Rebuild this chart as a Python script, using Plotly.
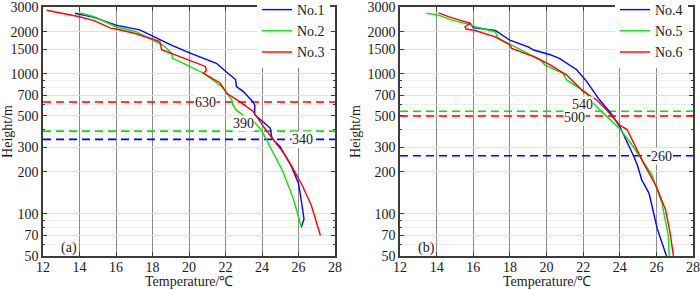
import math
import plotly.graph_objects as go

# ---------------- data ----------------
# Panel (a)
a1_T = [13.75, 14.8, 16.0, 17.3, 17.9, 19.0, 20.0, 21.5, 22.05, 22.35, 22.55, 22.6, 22.97, 23.5, 23.6, 23.6,
        24.45, 24.55, 25.0, 25.6, 26.0, 26.15, 26.3, 26.15]
a1_H = [2710, 2530, 2230, 2060, 1890, 1610, 1420, 1190, 1030, 950, 910, 810, 750, 630, 600, 510,
        410, 345, 300, 220, 165, 125, 92, 80]

a2_T = [13.95, 14.8, 16.0, 17.1, 17.9, 18.4, 18.6, 19.05, 19.1, 19.7, 20.8, 21.8, 22.15, 22.35, 22.4, 22.6,
        23.2, 23.6, 24.0, 24.4, 24.7, 25.15, 25.7, 26.05, 26.15]
a2_H = [2730, 2560, 2170, 2000, 1770, 1650, 1600, 1400, 1290, 1190, 1010, 810, 710, 650, 600, 550,
        480, 450, 390, 310, 260, 200, 130, 90, 81]

a3_T = [12.2, 14.0, 14.8, 15.7, 16.0, 17.0, 17.9, 18.4, 18.5, 18.8, 19.5, 20.9, 20.95, 20.8, 21.7, 22.1,
        22.8, 23.5, 24.2, 24.7, 25.2, 25.7, 26.2, 26.7, 27.0, 27.2]
a3_H = [2850, 2560, 2400, 2120, 2090, 1950, 1790, 1700, 1490, 1440, 1330, 1130, 1060, 1010, 860, 720,
        630, 540, 400, 330, 270, 210, 160, 115, 85, 70]

# Panel (b)
b4_T = [15.83, 16.0, 17.2, 18.0, 19.0, 19.3, 20.2, 20.7, 21.65, 22.2, 22.9, 23.5, 24.0, 24.45, 24.75,
        24.95, 25.05, 25.2, 25.6, 25.85, 26.05, 26.55]
b4_H = [2300, 2140, 2040, 1740, 1560, 1480, 1370, 1290, 1070, 880, 650, 525, 420, 320, 260,
        225, 205, 175, 140, 100, 78, 50]

b5_T = [13.45, 14.1, 14.8, 15.55, 15.9, 16.1, 17.2, 17.35, 17.9, 19.0, 19.65, 19.9, 20.9, 21.1, 22.2,
        22.3, 22.9, 24.0, 24.75, 25.75, 26.3, 26.65, 26.7]
b5_H = [2710, 2630, 2430, 2300, 2230, 2170, 2000, 1800, 1650, 1400, 1260, 1160, 1010, 905, 730,
        670, 555, 405, 300, 190, 120, 70, 50]

b6_T = [14.1, 14.65, 15.35, 15.85, 15.55, 15.6, 16.1, 17.2, 18.0, 18.1, 19.0, 19.3, 20.2, 21.1, 22.0,
        22.75, 23.3, 24.0, 24.4, 24.75, 25.3, 26.0, 26.5, 26.75, 26.93]
b6_H = [2730, 2560, 2400, 2300, 2170, 2090, 2040, 1840, 1610, 1520, 1370, 1330, 1160, 980, 750,
        650, 550, 430, 400, 320, 230, 156, 107, 73, 50]

names_a = ["No.1", "No.2", "No.3"]
names_b = ["No.4", "No.5", "No.6"]
levels_a = [340, 390, 630]      # blue, green, red dashed lines
levels_b = [260, 540, 500]
x_ticks = [12, 14, 16, 18, 20, 22, 24, 26, 28]
y_ticks = [50, 70, 100, 200, 300, 500, 700, 1000, 1500, 2000, 3000]
y_minor = [60, 80, 90, 400, 600, 800, 900]
x_range = [12, 28]
x_title = "Temperature/℃"
y_title = "Height/m"
panel_tags = ["(a)", "(b)"]

colors = ["#0000ff", "#00e600", "#ff0000"]
FONT = "Liberation Serif, Times New Roman, Times, serif"
TXT = "#1a1a1a"

fig = go.Figure()

series_a = [(a1_T, a1_H), (a2_T, a2_H), (a3_T, a3_H)]
series_b = [(b4_T, b4_H), (b5_T, b5_H), (b6_T, b6_H)]

# dashed reference lines
for lv, c in zip(levels_a, colors):
    fig.add_trace(go.Scatter(x=x_range, y=[lv, lv], mode="lines", xaxis="x", yaxis="y",
                             line=dict(color=c, width=1.6, dash="8px,5px"), showlegend=False,
                             hoverinfo="skip"))
for lv, c in zip(levels_b, colors):
    fig.add_trace(go.Scatter(x=x_range, y=[lv, lv], mode="lines", xaxis="x2", yaxis="y2",
                             line=dict(color=c, width=1.6, dash="8px,5px"), showlegend=False,
                             hoverinfo="skip"))

for (t, h), n, c in zip(series_a, names_a, colors):
    fig.add_trace(go.Scatter(x=t, y=h, mode="lines", name=n, xaxis="x", yaxis="y",
                             line=dict(color=c, width=1.4), legend="legend"))
for (t, h), n, c in zip(series_b, names_b, colors):
    fig.add_trace(go.Scatter(x=t, y=h, mode="lines", name=n, xaxis="x2", yaxis="y2",
                             line=dict(color=c, width=1.4), legend="legend2"))

W, H = 700, 289
frame = "#3c3c3c"
ylo, yhi = math.log10(50), math.log10(3000)


def xax(domain, anchor):
    return dict(domain=domain, anchor=anchor, range=x_range, tickvals=x_ticks,
                ticks="inside", ticklen=4, tickcolor=frame, showline=True, linecolor=frame,
                linewidth=1.5, mirror="ticks", showgrid=True, gridcolor="#8a8a8a", gridwidth=1,
                zeroline=False, ticklabelstandoff=-3, automargin=False,
                ticklabeloverflow="allow",
                tickfont=dict(family=FONT, size=14, color=TXT))


def yax(anchor):
    return dict(domain=[1 - 256 / H, 1 - 7 / H], anchor=anchor, type="log",
                range=[ylo - 0.0005, yhi + 0.0005], tickvals=y_ticks,
                ticktext=[str(v) for v in y_ticks], automargin=False,
                ticklabeloverflow="allow",
                ticks="inside", ticklen=4, tickcolor=frame, showline=True, linecolor=frame,
                linewidth=1.5, mirror="ticks", showgrid=True, gridcolor="#e0e0e0", gridwidth=1,
                minor=dict(tickvals=y_minor, ticks="inside", ticklen=2.5, tickcolor=frame,
                           showgrid=True, gridcolor="#eeeeee"),
                zeroline=False, tickfont=dict(family=FONT, size=14, color=TXT),
                title=dict(text=y_title, font=dict(family=FONT, size=14, color=TXT),
                           standoff=4))


ann = []
# level labels: (value, x position, yshift)
for lv, xp, ys in zip(levels_a, [26.2, 23.0, 20.9], [0, 8, -1]):
    ann.append(dict(x=xp, y=math.log10(lv), xref="x", yref="y", text=str(lv), showarrow=False,
                    yshift=ys, font=dict(family=FONT, size=14, color=TXT), bgcolor="white",
                    borderpad=0))
for lv, xp, ys in zip(levels_b, [26.3, 21.95, 21.55], [-1, 7, -2]):
    ann.append(dict(x=xp, y=math.log10(lv), xref="x2", yref="y2", text=str(lv), showarrow=False,
                    yshift=ys, font=dict(family=FONT, size=14, color=TXT), bgcolor="white",
                    borderpad=0))
for txt, xr, yr in zip(panel_tags, ["x", "x2"], ["y", "y2"]):
    ann.append(dict(x=12.9, y=math.log10(57), xref=xr, yref=yr, text=txt, showarrow=False,
                    xanchor="left", font=dict(family=FONT, size=14, color=TXT)))
# x-axis titles (placed as annotations so they fit the 289 px canvas)
for xr in ["x domain", "x2 domain"]:
    ann.append(dict(x=0.5, y=1 - 281 / H, xref=xr, yref="paper", text=x_title, showarrow=False,
                    xanchor="center", yanchor="middle",
                    font=dict(family=FONT, size=14, color=TXT)))

leg = dict(font=dict(family=FONT, size=14, color=TXT), bgcolor="white", borderwidth=0,
           xanchor="left", yanchor="top", tracegroupgap=0, itemwidth=30)

fig.update_layout(
    width=W, height=H, autosize=False,
    margin=dict(l=0, r=0, t=0, b=0, autoexpand=False),
    paper_bgcolor="white", plot_bgcolor="white",
    xaxis=xax([43 / W, 335 / W], "y"),
    yaxis=yax("x"),
    xaxis2=xax([400 / W, 693 / W], "y2"),
    yaxis2=yax("x2"),
    legend=dict(leg, x=257 / W, y=1 + 6 / H),
    legend2=dict(leg, x=615 / W, y=1 + 6 / H),
    annotations=ann,
    showlegend=True,
)

# remove the default page margin so the 700x289 figure fills the window exactly
fig.write_html("out.html", config={"displayModeBar": False},
               post_script="document.body.style.margin='0';document.body.style.overflow='hidden';")
